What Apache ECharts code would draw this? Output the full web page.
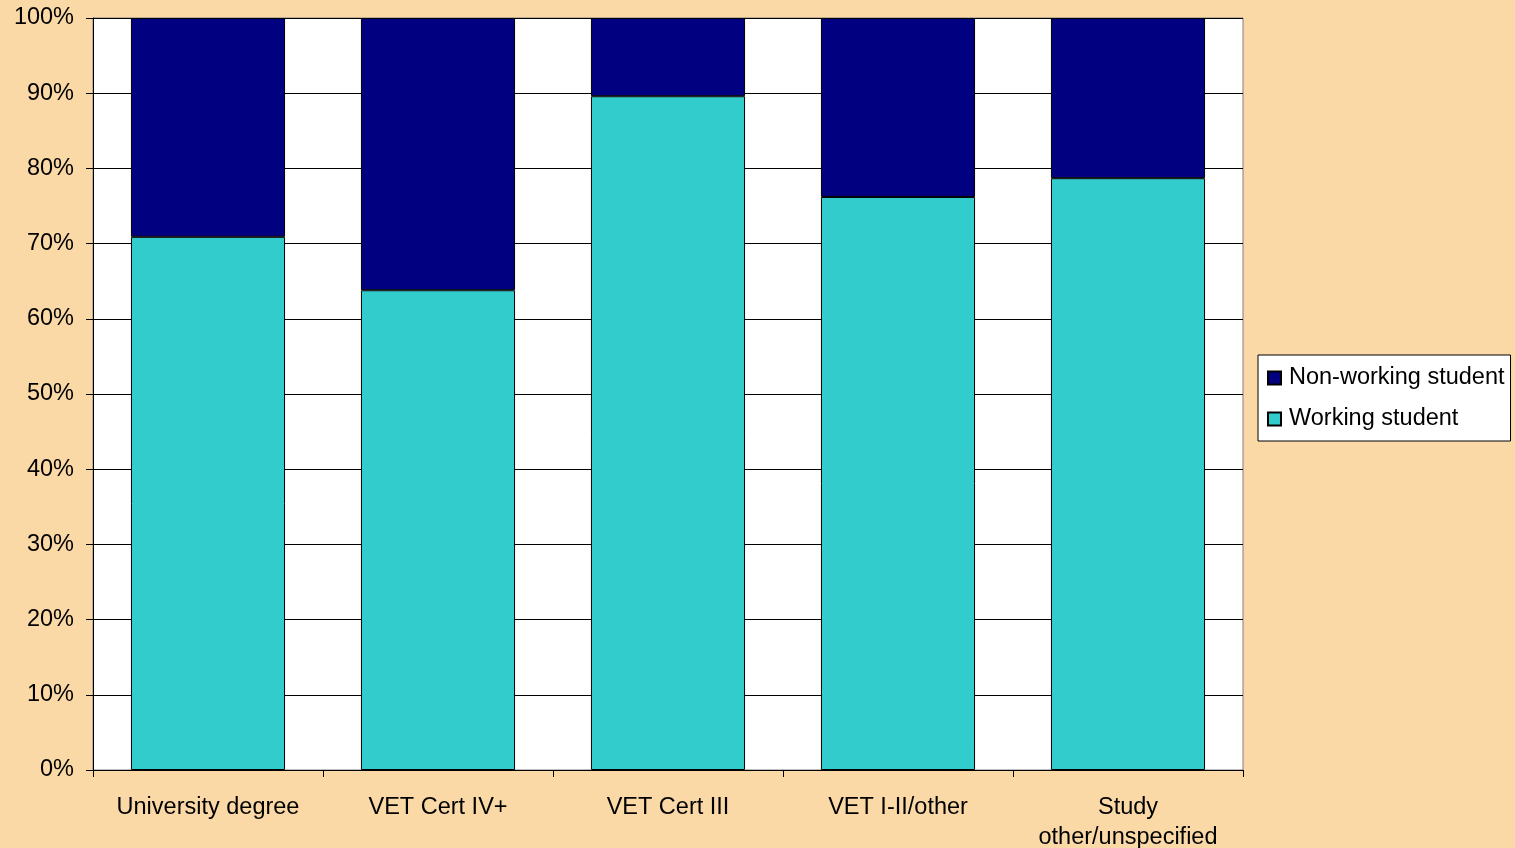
<!DOCTYPE html>
<html>
<head>
<meta charset="utf-8">
<script src="https://cdn.jsdelivr.net/npm/echarts@6/dist/echarts.min.js"></script>
<style>
html,body{margin:0;padding:0;background:#FAD9A6;}
#c{width:1515px;height:848px;}
</style>
</head>
<body>
<div id="c"></div>
<script>
const categories = ['University degree', 'VET Cert IV+', 'VET Cert III', 'VET I-II/other', 'Study\nother/unspecified'];
const working = [70.9, 63.8, 89.6, 76.2, 78.7];
const nonWorking = working.map(v => +(100 - v).toFixed(1));
const yTicks = [0, 10, 20, 30, 40, 50, 60, 70, 80, 90, 100];

const font = 'Liberation Sans, Arial, sans-serif';
const chart = echarts.init(document.getElementById('c'));
chart.setOption({
  backgroundColor: '#FAD9A6',
  animation: false,
  grid: {left: 93, right: 272, top: 18, bottom: 78, outerBoundsMode: 'none', containLabel: false,
         show: true, backgroundColor: '#ffffff', borderColor: '#808080', borderWidth: 1},
  legend: {
    orient: 'vertical', left: 1258, top: 355,
    data: ['Non-working student', 'Working student'],
    icon: 'rect', itemWidth: 13, itemHeight: 13, itemGap: 17,
    backgroundColor: '#ffffff', borderColor: '#000', borderWidth: 1,
    padding: [11, 6, 10, 9],
    textStyle: {fontFamily: font, fontSize: 23.5, color: '#000', padding: [0, 0, 0, 3]}
  },
  xAxis: {
    type: 'category', data: categories,
    axisLine: {lineStyle: {color: '#000', width: 1}},
    axisTick: {show: true, length: 7, lineStyle: {color: '#000'}},
    axisLabel: {fontFamily: font, fontSize: 23.5, color: '#000', margin: 23, lineHeight: 30, interval: 0}
  },
  yAxis: {
    type: 'value', min: 0, max: 100, interval: 10,
    axisLine: {show: true, lineStyle: {color: '#000', width: 1}},
    axisTick: {show: true, length: 7, lineStyle: {color: '#000'}},
    splitLine: {lineStyle: {color: '#000', width: 1}},
    axisLabel: {fontFamily: font, fontSize: 23.5, color: '#000', margin: 19,
      formatter: v => yTicks.includes(v) ? v + '%' : ''}
  },
  series: [
    {name: 'Working student', type: 'bar', stack: 's', data: working, barWidth: '67%',
     itemStyle: {color: '#33CCCC', borderColor: '#000', borderWidth: 1}},
    {name: 'Non-working student', type: 'bar', stack: 's', data: nonWorking, barWidth: '67%',
     itemStyle: {color: '#000080', borderColor: '#000', borderWidth: 1}}
  ]
});
</script>
</body>
</html>
